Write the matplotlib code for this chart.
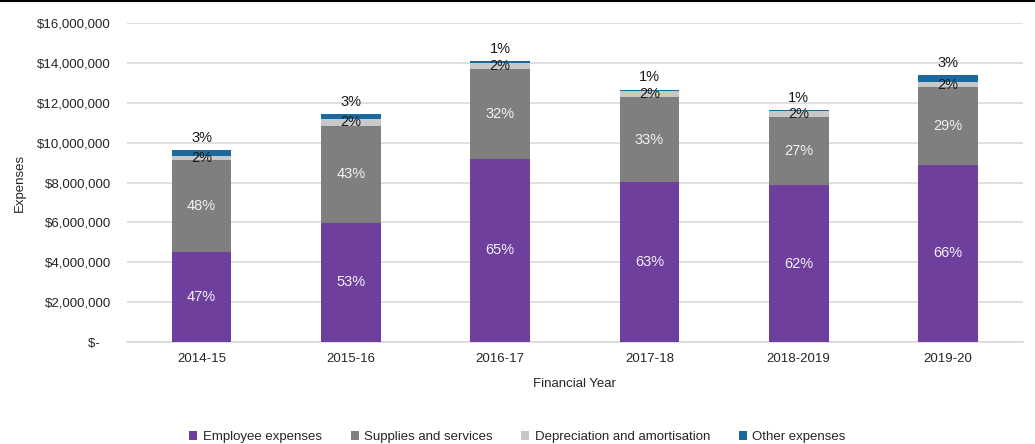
import matplotlib
matplotlib.use("Agg")
import matplotlib.pyplot as plt
from matplotlib.lines import Line2D
from matplotlib.ticker import FuncFormatter
import numpy as np

plt.rcParams['font.family'] = ['Liberation Sans', 'DejaVu Sans']

years = ["2014-15", "2015-16", "2016-17", "2017-18", "2018-2019", "2019-20"]
employee = [4530000, 5980000, 9200000, 8030000, 7870000, 8880000]
supplies = [4600000, 4870000, 4490000, 4240000, 3430000, 3890000]
depreciation = [220000, 320000, 300000, 320000, 280000, 250000]
other = [280000, 260000, 100000, 60000, 60000, 370000]

employee_lbl = ["47%", "53%", "65%", "63%", "62%", "66%"]
supplies_lbl = ["48%", "43%", "32%", "33%", "27%", "29%"]
depreciation_lbl = ["2%", "2%", "2%", "2%", "2%", "2%"]
other_lbl = ["3%", "3%", "1%", "1%", "1%", "3%"]

series_names = ["Employee expenses", "Supplies and services",
                "Depreciation and amortisation", "Other expenses"]
colors = ["#6E3F9C", "#7F7F7F", "#C8C8C8", "#1A6AA0"]

fig = plt.figure(figsize=(10.35, 4.44), dpi=100)
ax = fig.add_axes([0.1227, 0.2297, 0.8653, 0.7185])

x = np.arange(len(years))
w = 0.4
series = [employee, supplies, depreciation, other]
bottom = np.zeros(len(years))
bars = []
for vals, name, c in zip(series, series_names, colors):
    ax.bar(x, vals, w, bottom=bottom, color=c, label=name, zorder=3)
    bars.append((np.array(vals, dtype=float), bottom.copy()))
    bottom = bottom + np.array(vals, dtype=float)

fs = 9.5
lfs = 10.5
emp_v, emp_b = bars[0]
sup_v, sup_b = bars[1]
dep_v, dep_b = bars[2]
oth_v, oth_b = bars[3]
for i in range(len(years)):
    ax.text(x[i], emp_b[i] + emp_v[i] / 2, employee_lbl[i], ha='center', va='center',
            color='#F2F2F2', fontsize=lfs, zorder=5)
    ax.text(x[i], sup_b[i] + sup_v[i] / 2, supplies_lbl[i], ha='center', va='center',
            color='#F2F2F2', fontsize=lfs, zorder=5)
    ax.text(x[i], dep_b[i] + dep_v[i] / 2, depreciation_lbl[i], ha='center', va='center',
            color='#1A1A1A', fontsize=lfs, zorder=5)
    ax.text(x[i], oth_b[i] + oth_v[i] + 620000, other_lbl[i], ha='center', va='center',
            color='#1A1A1A', fontsize=lfs, zorder=5)

ax.set_xlim(-0.5, len(years) - 0.5)
ax.set_ylim(0, 16000000)
ax.set_yticks(np.arange(0, 16000001, 2000000))


def fmt(v, pos):
    if v == 0:
        return "$-   "
    return "${:,.0f}".format(v)


ax.yaxis.set_major_formatter(FuncFormatter(fmt))
ax.set_xticks(x)
ax.set_xticklabels(years)
ax.tick_params(axis='both', length=0, labelsize=fs, colors='#262626')
ax.tick_params(axis='y', pad=11.5)
ax.tick_params(axis='x', pad=8)
ax.grid(axis='y', color='#D9D9D9', linewidth=1.2, zorder=0)
for s in ['top', 'right', 'left']:
    ax.spines[s].set_visible(False)
ax.spines['bottom'].set_color('#D9D9D9')
ax.spines['bottom'].set_linewidth(1.2)

ax.set_xlabel("Financial Year", fontsize=fs, color='#262626', labelpad=9)
ax.set_ylabel("Expenses", fontsize=fs, color='#262626', labelpad=8)

fig.legend(loc='lower center', bbox_to_anchor=(0.5, -0.025), ncol=4, frameon=False,
           fontsize=fs, handlelength=0.6, handleheight=0.6, handletextpad=0.4,
           columnspacing=2.2, labelcolor='#262626')

fig.add_artist(Line2D([0, 1], [0.9985, 0.9985], color='black', linewidth=1.5,
                      transform=fig.transFigure))

fig.savefig("out.png", dpi=100)
